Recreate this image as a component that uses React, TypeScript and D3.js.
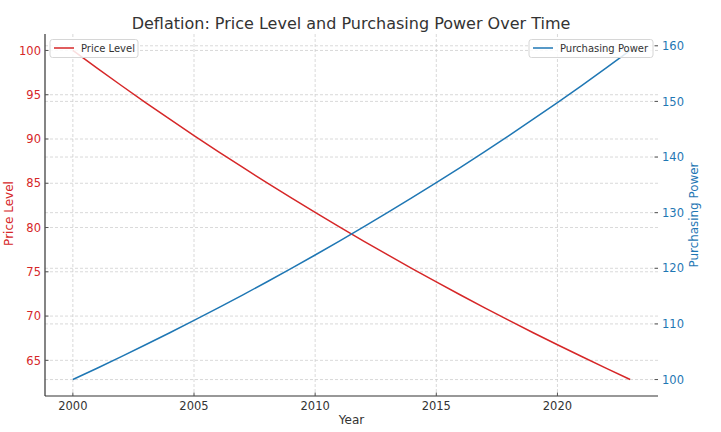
import * as d3 from "d3";

// Values
const years = [
  2000, 2001, 2002, 2003, 2004, 2005, 2006, 2007, 2008, 2009, 2010, 2011,
  2012, 2013, 2014, 2015, 2016, 2017, 2018, 2019, 2020, 2021, 2022, 2023,
];
const priceLevel = [
  100, 98, 96.04, 94.12, 92.24, 90.39, 88.58, 86.81, 85.08, 83.37, 81.71,
  80.07, 78.47, 76.9, 75.36, 73.86, 72.38, 70.93, 69.51, 68.12, 66.76, 65.43,
  64.12, 62.83,
];
const purchasingPower = [
  100, 102.04, 104.12, 106.25, 108.41, 110.63, 112.89, 115.19, 117.54, 119.95,
  122.39, 124.89, 127.44, 130.04, 132.69, 135.4, 138.16, 140.98, 143.86,
  146.8, 149.79, 152.85, 155.97, 159.16,
];
const yearTicks = [2000, 2005, 2010, 2015, 2020];
const priceTicks = [65, 70, 75, 80, 85, 90, 95, 100];
const powerTicks = [100, 110, 120, 130, 140, 150, 160];

const W = 721;
const H = 432;
const margin = { top: 34, right: 63, bottom: 36, left: 45 };
const RED = "#d62728";
const BLUE = "#1f77b4";
const FONT = "DejaVu Sans, sans-serif";

function pad([a, b]: [number, number]): [number, number] {
  const m = (b - a) * 0.05;
  return [a - m, b + m];
}

export default function App() {
  const x = d3
    .scaleLinear()
    .domain(pad(d3.extent(years) as [number, number]))
    .range([margin.left, W - margin.right]);
  const yL = d3
    .scaleLinear()
    .domain(pad(d3.extent(priceLevel) as [number, number]))
    .range([H - margin.bottom, margin.top]);
  const yR = d3
    .scaleLinear()
    .domain(pad(d3.extent(purchasingPower) as [number, number]))
    .range([H - margin.bottom, margin.top]);

  const priceLine = d3
    .line<number>()
    .x((_, i) => x(years[i]))
    .y((d) => yL(d));
  const powerLine = d3
    .line<number>()
    .x((_, i) => x(years[i]))
    .y((d) => yR(d));

  const left = margin.left;
  const right = W - margin.right;
  const top = margin.top;
  const bottom = H - margin.bottom;

  return (
    <svg
      width={W}
      height={H}
      style={{ position: "absolute", left: 0, top: 0, background: "#fff" }}
      fontFamily={FONT}
    >
      {/* grid */}
      <g stroke="#cfcfcf" strokeWidth={0.8} strokeDasharray="3,2">
        {yearTicks.map((t) => (
          <line key={"gx" + t} x1={x(t)} x2={x(t)} y1={top} y2={bottom} />
        ))}
        {priceTicks.map((t) => (
          <line key={"gl" + t} x1={left} x2={right} y1={yL(t)} y2={yL(t)} />
        ))}
        {powerTicks.map((t) => (
          <line key={"gr" + t} x1={left} x2={right} y1={yR(t)} y2={yR(t)} />
        ))}
      </g>

      {/* lines */}
      <path d={priceLine(priceLevel) ?? ""} fill="none" stroke={RED} strokeWidth={1.5} />
      <path d={powerLine(purchasingPower) ?? ""} fill="none" stroke={BLUE} strokeWidth={1.5} />

      {/* spines */}
      <line x1={left} x2={left} y1={top} y2={bottom} stroke="#333" strokeWidth={1.2} />
      <line x1={left} x2={right} y1={bottom} y2={bottom} stroke="#333" strokeWidth={1.2} />

      {/* x axis */}
      <g fontSize={11.5} fill="#333" textAnchor="middle">
        {yearTicks.map((t) => (
          <g key={"x" + t}>
            <line x1={x(t)} x2={x(t)} y1={bottom} y2={bottom - 3.5} stroke="#555" />
            <text x={x(t)} y={bottom + 13.5}>
              {t}
            </text>
          </g>
        ))}
        <text x={(left + right) / 2} y={H - 8} fontSize={12}>
          Year
        </text>
      </g>

      {/* left axis */}
      <g fontSize={11.5} fill={RED} textAnchor="end">
        {priceTicks.map((t) => (
          <g key={"l" + t}>
            <line x1={left} x2={left + 3.5} y1={yL(t)} y2={yL(t)} stroke="#555" />
            <text x={left - 4} y={yL(t) + 4.2}>
              {t}
            </text>
          </g>
        ))}
        <text
          transform={`translate(12.5,213.5) rotate(-90)`}
          textAnchor="middle"
          fontSize={12}
        >
          Price Level
        </text>
      </g>

      {/* right axis */}
      <g fontSize={11.5} fill={BLUE} textAnchor="start">
        {powerTicks.map((t) => (
          <g key={"r" + t}>
            <line x1={right - 3.5} x2={right} y1={yR(t)} y2={yR(t)} stroke="#555" />
            <text x={right + 4} y={yR(t) + 4.2}>
              {t}
            </text>
          </g>
        ))}
        <text
          transform={`translate(698,215) rotate(-90)`}
          textAnchor="middle"
          fontSize={11.9}
        >
          Purchasing Power
        </text>
      </g>

      {/* legends */}
      <g fontSize={10} fill="#333">
        <rect x={50} y={39.5} width={88} height={18} rx={2.5} fill="#fff" fillOpacity={0.85} stroke="#d6d6d6" />
        <line x1={54} x2={74} y1={48} y2={48} stroke={RED} strokeWidth={1.5} />
        <text x={81} y={51.5}>Price Level</text>
        <rect x={529} y={39.5} width={124} height={18} rx={2.5} fill="#fff" fillOpacity={0.85} stroke="#d6d6d6" />
        <line x1={533} x2={553} y1={48} y2={48} stroke={BLUE} strokeWidth={1.5} />
        <text x={560} y={51.5}>Purchasing Power</text>
      </g>

      {/* title */}
      <text x={351} y={28.5} textAnchor="middle" fontSize={16} fill="#333">
        Deflation: Price Level and Purchasing Power Over Time
      </text>
    </svg>
  );
}
